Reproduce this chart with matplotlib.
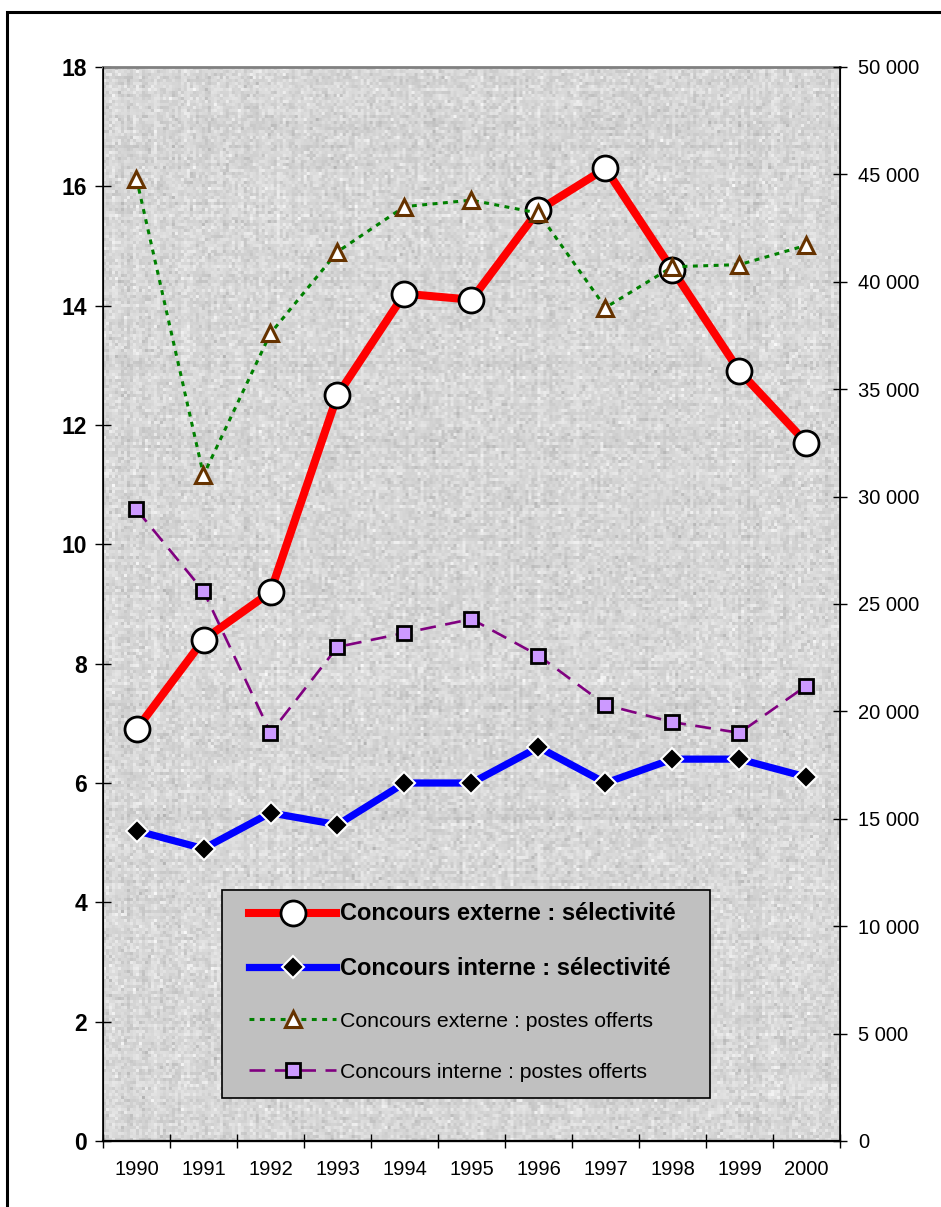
import numpy as np
import matplotlib
matplotlib.use("Agg")
import matplotlib.pyplot as plt
import matplotlib.ticker as ticker
from matplotlib.patches import Rectangle

plt.rcParams['font.family'] = ['Liberation Sans', 'DejaVu Sans']

annees = ['1990', '1991', '1992', '1993', '1994', '1995', '1996', '1997', '1998', '1999', '2000']
selectivite_externe = [6.9, 8.4, 9.2, 12.5, 14.2, 14.1, 15.6, 16.3, 14.6, 12.9, 11.7]
selectivite_interne = [5.2, 4.9, 5.5, 5.3, 6.0, 6.0, 6.6, 6.0, 6.4, 6.4, 6.1]
postes_externe = [44800, 31000, 37600, 41400, 43500, 43800, 43200, 38800, 40700, 40800, 41700]
postes_interne = [29400, 25600, 19000, 23000, 23650, 24300, 22600, 20300, 19500, 19000, 21200]

W, H = 941, 1207
fig = plt.figure(figsize=(W / 100, H / 100), dpi=100)
ax = fig.add_axes([103 / W, 66 / H, 737 / W, 1074 / H])
ax2 = ax.twinx()

x = np.arange(len(annees))

# grainy canvas-like background for the plot area
rng = np.random.default_rng(7)
th, tw = 358, 246
tex = 0.845 + rng.normal(0, 0.012, (th, 1)) + rng.normal(0, 0.012, (1, tw)) \
    + rng.normal(0, 0.035, (th, tw))
tex = np.repeat(np.repeat(tex, 3, axis=0), 3, axis=1)
tex = np.clip(tex, 0.65, 0.98)
ax.imshow(tex, cmap='gray', vmin=0, vmax=1, extent=(-0.5, 10.5, 0, 18),
          aspect='auto', interpolation='bilinear', zorder=0)

l1, = ax.plot(x, selectivite_externe, color='#ff0000', lw=5.8, marker='o', ms=18,
              mfc='white', mec='black', mew=2, zorder=3,
              label='Concours externe : sélectivité')
l2, = ax.plot(x, selectivite_interne, color='#0000ff', lw=5.2, marker='D', ms=11,
              mfc='black', mec='white', mew=1.5, zorder=3,
              label='Concours interne : sélectivité')

l3, = ax2.plot(x, postes_externe, color='#008000', lw=2.2, ls=(0, (1.6, 1.8)),
               marker='^', ms=11, mfc='white', mec='#663300', mew=2.2, zorder=3,
               label='Concours externe : postes offerts')
l4, = ax2.plot(x, postes_interne, color='#800080', lw=1.9, ls=(0, (6, 3.6)),
               marker='s', ms=10, mfc='#cc99ff', mec='black', mew=2, zorder=3,
               label='Concours interne : postes offerts')

ax.set_xlim(-0.5, 10.5)
ax.set_ylim(0, 18)
ax2.set_ylim(0, 50000)
ax.set_yticks(np.arange(0, 19, 2))
ax2.set_yticks(np.arange(0, 50001, 5000))
ax2.yaxis.set_major_formatter(ticker.FuncFormatter(
    lambda v, p: '{:,}'.format(int(v)).replace(',', ' ')))

ax.set_xticks(np.arange(-0.5, 11, 1))
ax.set_xticklabels([])
ax.set_xticks(x, minor=True)
ax.set_xticklabels(annees, minor=True, fontsize=14.5)
ax.tick_params(axis='x', which='minor', length=0, pad=14)
ax.tick_params(axis='x', which='major', direction='inout', length=10, width=1)
ax.tick_params(axis='y', direction='inout', length=11, width=1, pad=6)
ax2.tick_params(axis='y', direction='inout', length=10, width=1, labelsize=14.5, pad=8)
for t in ax.get_yticklabels():
    t.set_fontsize(16.5)
    t.set_fontweight('bold')

ax.spines['top'].set_color('#808080')
ax.spines['top'].set_linewidth(2)
ax2.spines['top'].set_visible(False)
ax.spines['bottom'].set_linewidth(1.6)
ax.spines['left'].set_linewidth(1.2)
ax2.spines['right'].set_linewidth(1.2)
ax2.patch.set_visible(False)

# legend box
box = Rectangle((222 / W, 1 - 1098 / H), 488 / W, 208 / H, transform=fig.transFigure,
                facecolor='#c0c0c0', edgecolor='black', lw=1.2, zorder=15, clip_on=False)
ax2.add_patch(box)
leg = ax2.legend([l1, l2, l3, l4], [l.get_label() for l in (l1, l2, l3, l4)],
                 loc='upper left', bbox_to_anchor=(249 / W, 1 - 902 / H),
                 bbox_transform=fig.transFigure, frameon=False, fontsize=15.3,
                 handlelength=4.1, handletextpad=0.2, borderpad=0, borderaxespad=0,
                 labelspacing=1.5, numpoints=1)
leg.set_zorder(20)
for t in leg.get_texts()[:2]:
    t.set_fontweight('bold')
    t.set_fontsize(17)

# outer frame
fig.add_artist(Rectangle((7 / W, -0.1), 1.2, 1.1 - 12 / H, transform=fig.transFigure,
                         fill=False, edgecolor='black', lw=2.2))

fig.savefig('out.png', dpi=100)
